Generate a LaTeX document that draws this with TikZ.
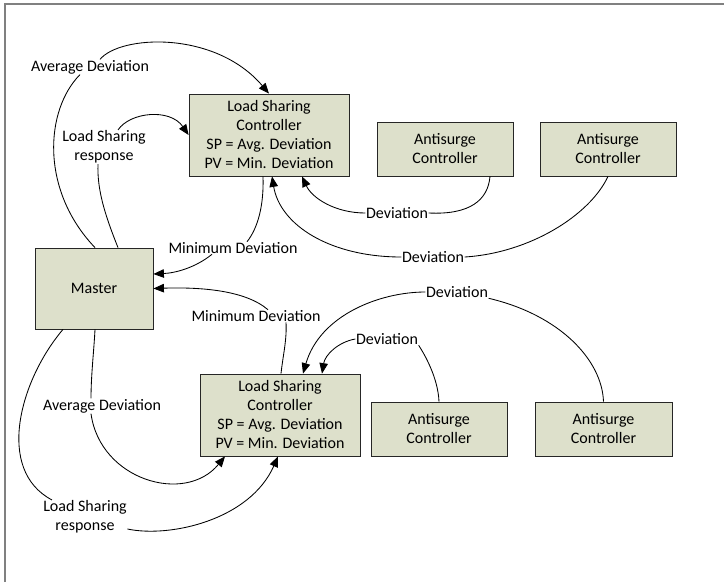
\documentclass[tikz,border=0pt]{standalone}
\usepackage{fontspec}
\setmainfont{Carlito}
\usetikzlibrary{arrows.meta}
\definecolor{boxfill}{RGB}{221,224,203}
\definecolor{framegray}{RGB}{128,128,128}
\begin{document}
\begin{tikzpicture}[x=1pt,y=-1pt,
  box/.style={draw=black!85,line width=0.8pt,fill=boxfill,align=center,inner sep=0pt,
    font=\fontsize{16}{19}\selectfont},
  lbl/.style={align=center,inner sep=0.5pt,font=\fontsize{16}{19}\selectfont},
  conn/.style={line width=0.85pt,draw=black},
  arr/.style={conn,-{Triangle[length=10.5pt,width=8.5pt]}}]
\useasboundingbox (0,0) rectangle (724,582);
\draw[framegray,line width=1.6pt] (4.8,582) -- (4.8,3.8) -- (724,3.8);
% boxes
\node[box,minimum width=160,minimum height=82] (lsc1) at (269,135) {Load Sharing\\Controller\\SP = Avg. Deviation\\PV = Min. Deviation};
\node[box,minimum width=118,minimum height=81] (m) at (94,288.5) {Master};
\node[box,minimum width=136,minimum height=54] (as1) at (445,149) {Antisurge\\Controller};
\node[box,minimum width=136,minimum height=54] (as2) at (608,149) {Antisurge\\Controller};
\node[box,minimum width=160,minimum height=82] (lsc2) at (280,415) {Load Sharing\\Controller\\SP = Avg. Deviation\\PV = Min. Deviation};
\node[box,minimum width=136,minimum height=54] (bas1) at (439,429) {Antisurge\\Controller};
\node[box,minimum width=137,minimum height=54] (bas2) at (603.5,429) {Antisurge\\Controller};
% labels
\node[lbl] (avgT) at (90,67) {Average Deviation};
\node[lbl] (respT) at (104,147) {Load Sharing\\response};
\node[lbl] (minT) at (233,248) {Minimum Deviation};
\node[lbl] (dev1) at (397,213) {Deviation};
\node[lbl] (dev2) at (433,257) {Deviation};
\node[lbl] (minB) at (256,316) {Minimum Deviation};
\node[lbl] (devB1) at (387,339) {Deviation};
\node[lbl] (devB2) at (457,292) {Deviation};
\node[lbl] (avgB) at (102,406) {Average Deviation};
\node[lbl] (respB) at (85,517) {Load Sharing\\response};
% top connectors
\draw[conn] ([xshift=1pt]m.north) .. controls (40,190) and (45,110) .. ([xshift=-10pt]avgT.south);
\draw[arr] ([xshift=10pt]avgT.north) .. controls (120,35) and (215,30) .. (lsc1.north);
\draw[conn] ([xshift=24pt]m.north) .. controls (105,215) and (97,190) .. ([xshift=-6pt]respT.south);
\draw[arr] ([xshift=14pt]respT.north) .. controls (130,112) and (170,108) .. (lsc1.west);
\draw[conn] ([xshift=-6pt]lsc1.south) .. controls (264,205) and (258,228) .. ([xshift=14pt]minT.north);
\draw[arr] ([xshift=-21pt]minT.south) .. controls (195,268) and (175,273) .. ([yshift=14.5pt]m.east);
\draw[conn] ([xshift=45pt]as1.south) .. controls (488,200) and (470,215) .. (dev1.east);
\draw[arr] (dev1.west) .. controls (335,213) and (312,198) .. ([xshift=33pt]lsc1.south);
\draw[conn] (as2.south) .. controls (590,215) and (530,253) .. (dev2.east);
\draw[arr] (dev2.west) .. controls (330,257) and (280,225) .. ([xshift=3pt]lsc1.south);
% bottom connectors
\draw[conn] ([xshift=1pt]lsc2.north) .. controls (283,355) and (287,340) .. ([xshift=30pt]minB.south);
\draw[arr] ([xshift=12pt]minB.north) .. controls (245,290) and (200,287) .. (m.east);
\draw[conn] (bas2.north) .. controls (602,360) and (560,315) .. (devB2.south east);
\draw[arr] (devB2.west) .. controls (380,292) and (320,315) .. ([xshift=23pt]lsc2.north);
\draw[conn] (bas1.north) .. controls (438,378) and (425,355) .. (devB1.south east);
\draw[arr] (devB1.west) .. controls (338,342) and (325,355) .. ([xshift=42pt]lsc2.north);
\draw[conn] ([xshift=1pt]m.south) .. controls (94,350) and (91,375) .. ([xshift=-11pt]avgB.north);
\draw[arr] ([xshift=-11pt]avgB.south) .. controls (100,480) and (185,505) .. ([xshift=-55pt]lsc2.south);
\draw[conn] ([xshift=-31pt]m.south) .. controls (20,380) and (-5,470) .. ([xshift=-33pt]respB.north);
\draw[arr] ([yshift=-12pt]respB.east) .. controls (170,538) and (250,520) .. ([xshift=-2pt]lsc2.south);
\end{tikzpicture}
\end{document}
